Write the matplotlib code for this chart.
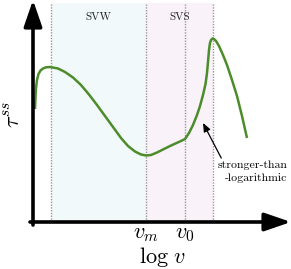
import numpy as np
import matplotlib.pyplot as plt

plt.rcParams['mathtext.fontset'] = 'cm'

# schematic steady-state stress curve (axis units, origin at the axes corner)
log_v = [2, 2.5, 3, 4, 5.5, 7.5, 10, 13, 17, 25, 32, 40, 48, 56, 64, 72, 80,
         88, 95, 102, 108, 113, 118, 124, 130, 136, 142, 148, 152,
         156, 160, 164, 167, 170, 172.5, 174, 175, 176, 177, 178, 179.5,
         181, 183, 186, 190, 194, 199, 204, 209, 214]
tau_ss = [113, 125, 134, 142, 148, 151.5, 153.5, 154.7, 155, 153.5, 150, 144.5,
          137, 127.5, 117, 106, 95, 84, 76, 70.5, 67.5, 66.5, 67, 69.5, 72.5,
          75.5, 78.3, 81, 83,
          89, 97, 107, 116, 127, 138, 149, 160, 172, 179, 182, 183.5,
          183, 181, 176, 167, 157, 142, 126, 106, 84]

# regime boundaries
x_svw = 18
x_vm = 113
x_v0 = 152
x_svs = 180

green = '#4c8c2b'

fig = plt.figure(figsize=(2.91, 2.69), dpi=100)
ax = fig.add_axes([33 / 291, 47 / 269, 257 / 291, 222 / 269])
ax.set_xlim(0, 257)
ax.set_ylim(0, 222)
ax.axis('off')

# shaded regimes
ax.axvspan(x_svw, x_vm, ymin=0, ymax=219 / 222, color='#f2f9fa', lw=0, zorder=0)
ax.axvspan(x_vm, x_svs, ymin=0, ymax=219 / 222, color='#f9f2f9', lw=0, zorder=0)
for x in [x_svw, x_vm, x_v0, x_svs]:
    ax.plot([x, x], [0, 219], ls=(0, (1, 1)), color='#999999', lw=1.0, zorder=1)

ax.text((x_svw + x_vm) / 2, 205, 'SVW', family='cmr10', fontsize=8,
        ha='center', va='center', color='#222222')
ax.text((x_vm + x_svs) / 2, 205, 'SVS', family='cmr10', fontsize=8,
        ha='center', va='center', color='#222222')

ax.plot(log_v, tau_ss, color=green, lw=1.8, solid_capstyle='butt', zorder=3)

# axes arrows
ax.annotate('', xy=(258, 0), xytext=(-3, 0), annotation_clip=False,
            arrowprops=dict(arrowstyle='-|>,head_length=1.6,head_width=0.55',
                            color='black', lw=2.6, shrinkA=0, shrinkB=0))
ax.annotate('', xy=(0, 222), xytext=(0, -3), annotation_clip=False,
            arrowprops=dict(arrowstyle='-|>,head_length=1.6,head_width=0.55',
                            color='black', lw=2.6, shrinkA=0, shrinkB=0))

# annotation
ax.annotate('stronger-than\n-logarithmic', xy=(170, 99), xytext=(254, 50),
            ha='right', va='center', multialignment='right',
            family='cmr10', fontsize=8.5, linespacing=1.35,
            arrowprops=dict(arrowstyle='-|>,head_length=0.6,head_width=0.25',
                            color='black', lw=0.9, shrinkA=0, shrinkB=0,
                            relpos=(0.08, 1.0)))

ax.text(x_vm, -12, r'$v_m$', fontsize=16, ha='center', va='center', clip_on=False)
ax.text(x_v0, -12, r'$v_0$', fontsize=16, ha='center', va='center', clip_on=False)
ax.text(130, -35, r'$\log\, v$', fontsize=16, ha='center', va='center', clip_on=False)
ax.text(-19, 107, r'$\tau^{ss}$', fontsize=16, ha='center', va='center',
        rotation=90, clip_on=False)

fig.savefig('out.png', dpi=100)
